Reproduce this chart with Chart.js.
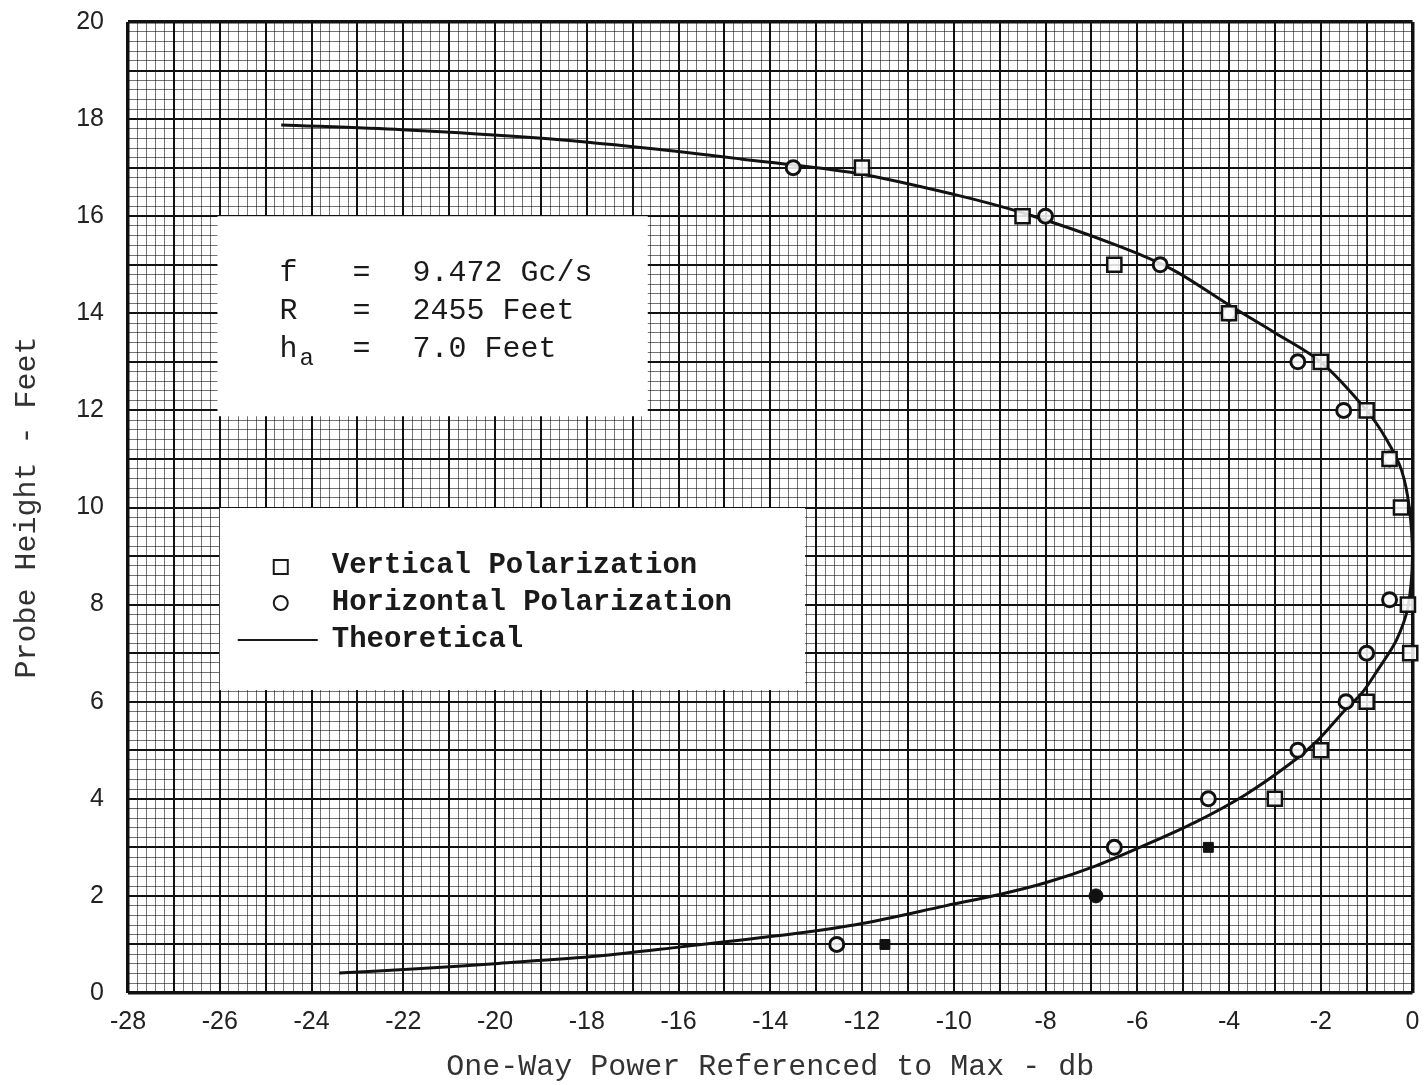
<!DOCTYPE html>
<html>
<head>
<meta charset="utf-8">
<script src="https://cdn.jsdelivr.net/npm/chart.js@4.4.1/dist/chart.umd.min.js"></script>
<style>
  html, body { margin: 0; padding: 0; background: #ffffff; }
  #wrap { width: 1425px; height: 1085px; }
</style>
</head>
<body>
<div id="wrap"><canvas id="probeChart" width="1425" height="1085"></canvas></div>
<script>
// theoretical height-gain curve (power in db, height in feet)
const theoPower = [-24.66, -22.03, -19.06, -16.67, -14.65, -12.1, -10, -8.5, -6.5, -5.23, -4, -3, -2, -1, -0.56, -0.24, -0.07, 0,
                   -0.1, -0.35, -0.76, -1.1, -1.47, -2.06, -2.7, -3.65, -4.73, -5.82, -6.9, -8, -9, -10.16, -12, -13.41, -15.95, -17.75, -19.93, -21.7, -23.4];
const theoHeight = [17.88, 17.78, 17.61, 17.4, 17.18, 16.88, 16.45, 16.07, 15.42, 14.9, 14.17, 13.6, 13.0, 12.0, 11.39, 10.77, 10.0, 9.0,
                    7.95, 7.27, 6.65, 6.18, 5.83, 5.21, 4.7, 4.08, 3.52, 3.05, 2.62, 2.27, 2.03, 1.8, 1.43, 1.23, 0.95, 0.76, 0.61, 0.5, 0.41];

// measured points
const vertPower  = [-12, -8.5, -6.5, -4, -2, -1, -0.5, -0.25, -0.1, -0.05, -1, -2, -3];
const vertHeight = [17, 16, 15, 14, 13, 12, 11, 10, 8, 7, 6, 5, 4];
const horizPower  = [-13.5, -8, -5.5, -4, -2.5, -1.5, -0.5, -0.5, -1, -1.45, -2.5, -4.45, -6.5, -12.55];
const horizHeight = [17, 16, 15, 14, 13, 12, 11, 8.1, 7, 6, 5, 4, 3, 1];
const solidSquarePower  = [-4.45, -11.5];
const solidSquareHeight = [3, 1];
const solidCirclePower  = [-6.9];
const solidCircleHeight = [2];

const xTickLabels = ['-28', '-26', '-24', '-22', '-20', '-18', '-16', '-14', '-12', '-10', '-8', '-6', '-4', '-2', '0'];
const yTickLabels = ['0', '2', '4', '6', '8', '10', '12', '14', '16', '18', '20'];

const infoLines = [['f', '=', '9.472 Gc/s'], ['R', '=', '2455 Feet'], ['h', '=', '7.0 Feet']];
const legendLabels = ['Vertical Polarization', 'Horizontal Polarization', 'Theoretical'];

function toPoints(xs, ys) {
    return xs.map((x, i) => ({ x: x, y: ys[i] }));
}

const MONO = '"Liberation Mono", "DejaVu Sans Mono", monospace';
const SANS = '"Liberation Sans", Arial, sans-serif';

function isMajor(v) {
    return Math.abs(v - Math.round(v)) < 1e-6;
}

function gridFor(minV, maxV) {
    return {
        drawTicks: false,
        color: (c) => isMajor(c.tick.value) ? '#111111' : 'rgba(0,0,0,0.55)',
        lineWidth: (c) => {
            const v = c.tick.value;
            if (Math.abs(v - minV) < 1e-6 || Math.abs(v - maxV) < 1e-6) return 3.5;
            return isMajor(v) ? 2 : 1;
        }
    };
}

function tickLabel(labels) {
    return function (v) {
        const r = Math.round(v);
        if (Math.abs(v - r) > 1e-6) return '';
        const s = String(r);
        return labels.includes(s) ? s : '';
    };
}

// white annotation boxes drawn over the graph paper
const boxesPlugin = {
    id: 'boxes',
    beforeDatasetsDraw(chart) {
        const { ctx, scales: { x, y } } = chart;
        ctx.save();

        // parameter box
        let l = x.getPixelForValue(-26.05), r = x.getPixelForValue(-16.67);
        let t = y.getPixelForValue(16.0), b = y.getPixelForValue(11.88);
        ctx.fillStyle = '#ffffff';
        ctx.fillRect(l, t, r - l, b - t);
        ctx.fillStyle = '#1a1a1a';
        ctx.font = '30px ' + MONO;
        ctx.textBaseline = 'middle';
        infoLines.forEach((ln, i) => {
            const cy = t + 57 + i * 38;
            ctx.fillText(ln[0], l + 62, cy);
            ctx.fillText(ln[1], l + 135, cy);
            ctx.fillText(ln[2], l + 195, cy);
        });
        ctx.font = '24px ' + MONO;
        ctx.fillText('a', l + 82, t + 57 + 2 * 38 + 9);

        // legend box
        l = x.getPixelForValue(-26.0); r = x.getPixelForValue(-13.24);
        t = y.getPixelForValue(9.99); b = y.getPixelForValue(6.24);
        ctx.fillStyle = '#ffffff';
        ctx.fillRect(l, t, r - l, b - t);
        ctx.strokeStyle = '#1a1a1a';
        ctx.fillStyle = '#1a1a1a';
        ctx.lineWidth = 2;
        const sx = l + 61;
        ctx.strokeRect(sx - 7, t + 59 - 7, 14, 14);
        ctx.beginPath();
        ctx.arc(sx, t + 95, 7, 0, Math.PI * 2);
        ctx.stroke();
        ctx.beginPath();
        ctx.moveTo(l + 18, t + 132);
        ctx.lineTo(l + 98, t + 132);
        ctx.stroke();
        ctx.font = 'bold 29px ' + MONO;
        legendLabels.forEach((s, i) => {
            ctx.fillText(s, l + 112, t + 58 + i * 37);
        });
        ctx.restore();
    }
};

const ctx = document.getElementById('probeChart').getContext('2d');
const probeChart = new Chart(ctx, {
    type: 'scatter',
    data: {
        datasets: [
            {
                label: 'Vertical Polarization',
                data: toPoints(vertPower, vertHeight),
                pointStyle: 'rect',
                pointRadius: 10,
                pointBorderWidth: 2.5,
                pointBorderColor: '#111111',
                pointBackgroundColor: 'rgba(255,255,255,0.85)',
                showLine: false,
                clip: false
            },
            {
                label: 'Horizontal Polarization',
                data: toPoints(horizPower, horizHeight),
                pointStyle: 'circle',
                pointRadius: 7,
                pointBorderWidth: 3,
                pointBorderColor: '#111111',
                pointBackgroundColor: 'rgba(255,255,255,0.85)',
                showLine: false,
                clip: false
            },
            {
                label: 'solid squares',
                data: toPoints(solidSquarePower, solidSquareHeight),
                pointStyle: 'rect',
                pointRadius: 7,
                pointBorderWidth: 1,
                pointBorderColor: '#111111',
                pointBackgroundColor: '#111111',
                showLine: false
            },
            {
                label: 'solid circles',
                data: toPoints(solidCirclePower, solidCircleHeight),
                pointStyle: 'circle',
                pointRadius: 7,
                pointBorderWidth: 1,
                pointBorderColor: '#111111',
                pointBackgroundColor: '#111111',
                showLine: false
            },
            {
                label: 'Theoretical',
                data: toPoints(theoPower, theoHeight),
                showLine: true,
                borderColor: '#111111',
                borderWidth: 3,
                pointRadius: 0,
                tension: 0.3,
                fill: false
            }
        ]
    },
    options: {
        responsive: false,
        animation: false,
        layout: { padding: { top: 22, right: -4, left: 0, bottom: 0 } },
        plugins: {
            legend: { display: false },
            tooltip: { enabled: false }
        },
        scales: {
            x: {
                type: 'linear',
                min: -28,
                max: 0,
                afterFit: (scale) => {
                    scale.height = 92;
                    scale.paddingLeft = 0;
                    scale.paddingRight = 0;
                },
                border: { display: false },
                grid: gridFor(-28, 0),
                ticks: {
                    stepSize: 0.2,
                    autoSkip: false,
                    maxRotation: 0,
                    padding: 14,
                    color: '#222222',
                    font: { family: SANS, size: 25 },
                    callback: tickLabel(xTickLabels)
                },
                title: {
                    display: true,
                    text: 'One-Way Power Referenced to Max - db',
                    color: '#333333',
                    font: { family: MONO, size: 30 },
                    padding: { top: 2, bottom: 0 }
                }
            },
            y: {
                type: 'linear',
                min: 0,
                max: 20,
                afterFit: (scale) => {
                    scale.width = 128;
                    scale.paddingTop = 0;
                    scale.paddingBottom = 0;
                },
                border: { display: false },
                grid: gridFor(0, 20),
                ticks: {
                    stepSize: 0.2,
                    autoSkip: false,
                    padding: 24,
                    color: '#222222',
                    font: { family: SANS, size: 25 },
                    callback: tickLabel(yTickLabels)
                },
                title: {
                    display: true,
                    text: 'Probe Height - Feet',
                    color: '#333333',
                    font: { family: MONO, size: 30 },
                    padding: { top: 9, bottom: 0 }
                }
            }
        }
    },
    plugins: [boxesPlugin]
});
</script>
</body>
</html>
